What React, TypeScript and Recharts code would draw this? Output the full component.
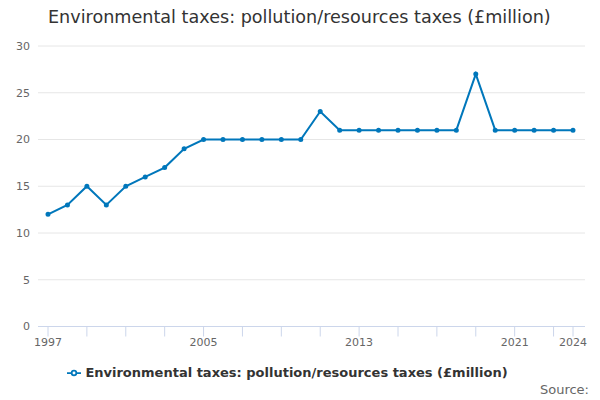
import { LineChart, Line, XAxis, YAxis, CartesianGrid, Legend } from 'recharts';

document.body.style.margin = '0';

const years = [
  1997, 1998, 1999, 2000, 2001, 2002, 2003, 2004, 2005, 2006, 2007, 2008, 2009, 2010,
  2011, 2012, 2013, 2014, 2015, 2016, 2017, 2018, 2019, 2020, 2021, 2022, 2023, 2024,
];
const values = [
  12, 13, 15, 13, 15, 16, 17, 19, 20, 20, 20, 20, 20, 20,
  23, 21, 21, 21, 21, 21, 21, 21, 27, 21, 21, 21, 21, 21,
];
const xTicks = [1997, 1999, 2001, 2003, 2005, 2007, 2009, 2011, 2013, 2015, 2017, 2019, 2021, 2023, 2024];
const xLabels = [1997, 2005, 2013, 2021, 2024];
const yTicks = [0, 5, 10, 15, 20, 25, 30];

const SERIES = 'Environmental taxes: pollution/resources taxes (£million)';
const data = years.map((year, i) => ({ year, value: values[i] }));

export default function App() {
  return (
    <div style={{ position: 'relative', width: 600, height: 400, fontFamily: '"DejaVu Sans", sans-serif' }}>
      <div style={{ position: 'absolute', left: 48, top: 7, fontSize: 17.6, color: '#333' }}>
        Environmental taxes: pollution/resources taxes (£million)
      </div>
      <LineChart width={600} height={400} data={data} margin={{ top: 46, right: 15, left: 0, bottom: 20 }}>
        <CartesianGrid vertical={false} stroke="#e6e6e6" />
        <XAxis
          dataKey="year"
          type="number"
          domain={[1997, 2024]}
          ticks={xTicks}
          interval={0}
          padding={{ left: 10, right: 12 }}
          tickFormatter={(v: number) => (xLabels.includes(v) ? String(v) : '')}
          tick={{ fontSize: 11, fill: '#666' }}
          tickLine={{ stroke: '#ccd6eb' }}
          axisLine={{ stroke: '#ccd6eb' }}
          tickSize={10}
          height={30}
        />
        <YAxis
          domain={[0, 30]}
          ticks={yTicks}
          tick={{ fontSize: 11, fill: '#666' }}
          axisLine={false}
          tickLine={false}
          width={38}
        />
        <Legend
          verticalAlign="bottom"
          wrapperStyle={{ fontSize: 13, fontWeight: 'bold', color: '#333', paddingTop: 8 }}
          formatter={(v: string) => <span style={{ color: '#333' }}>{v}</span>}
        />
        <Line
          name={SERIES}
          dataKey="value"
          stroke="#0077bb"
          strokeWidth={2}
          dot={{ r: 1.5, fill: '#0077bb', stroke: '#0077bb' }}
          isAnimationActive={false}
        />
      </LineChart>
      <div style={{ position: 'absolute', right: 11, top: 382, fontSize: 13, color: '#666' }}>Source:</div>
    </div>
  );
}
